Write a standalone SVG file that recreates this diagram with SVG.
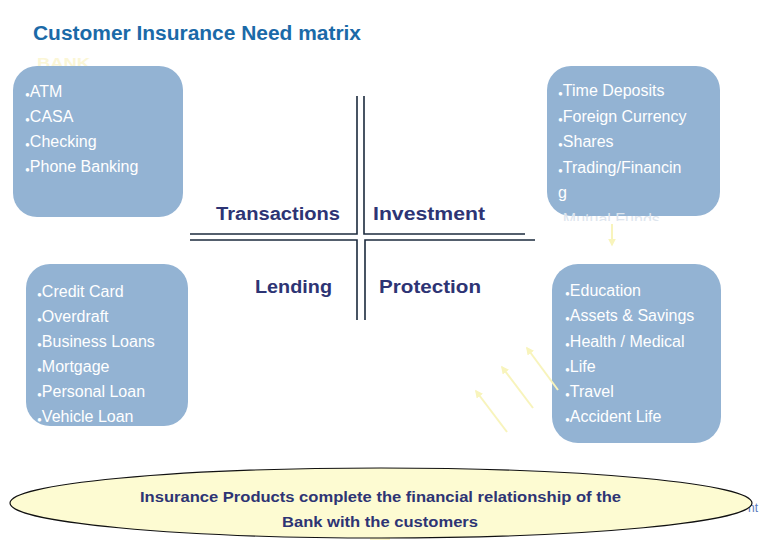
<svg xmlns="http://www.w3.org/2000/svg" width="780" height="540" viewBox="0 0 780 540">
<style>
.box{fill:#93b3d3}
.it{font-family:"Liberation Sans",Arial,sans-serif;font-size:16px;fill:#ffffff}
.b{font-size:8px}
.q{font-family:"Liberation Sans",Arial,sans-serif;font-size:18px;font-weight:bold;fill:#2d3474}
.ax{fill:none;stroke:#1c2b3e;stroke-width:1.6}
.ya{stroke:#f8f4bc;stroke-width:2;fill:none}
</style>
<defs>
<marker id="yh" viewBox="0 0 10 10" refX="8" refY="5" markerWidth="4" markerHeight="4" orient="auto">
<path d="M0,0 L10,5 L0,10 z" fill="#f8f4bc"/>
</marker>
<clipPath id="mf"><rect x="540" y="60" width="200" height="161"/></clipPath>
</defs>
<rect width="780" height="540" fill="#ffffff"/>

<g id="title">
<text x="33" y="40" font-family="Liberation Sans,Arial,sans-serif" font-size="20" font-weight="bold" fill="#1b6aa8" textLength="328" lengthAdjust="spacingAndGlyphs">Customer Insurance Need matrix</text>
<text x="37" y="68" font-family="Liberation Sans,Arial,sans-serif" font-size="15" font-weight="bold" fill="#fbf6d6" textLength="53" lengthAdjust="spacingAndGlyphs">BANK</text>
</g>

<g id="transactions-box">
<rect class="box" x="13" y="66" width="170" height="151" rx="24"/>
<text class="it" x="25" y="97"><tspan class="b">●</tspan>ATM</text>
<text class="it" x="25" y="122"><tspan class="b">●</tspan>CASA</text>
<text class="it" x="25" y="147"><tspan class="b">●</tspan>Checking</text>
<text class="it" x="25" y="172"><tspan class="b">●</tspan>Phone Banking</text>
</g>

<g id="investment-box">
<rect class="box" x="547" y="66" width="173" height="150" rx="24"/>
<text class="it" x="558" y="96"><tspan class="b">●</tspan>Time Deposits</text>
<text class="it" x="558" y="122"><tspan class="b">●</tspan>Foreign Currency</text>
<text class="it" x="558" y="147"><tspan class="b">●</tspan>Shares</text>
<text class="it" x="558" y="173"><tspan class="b">●</tspan>Trading/Financin</text>
<text class="it" x="558" y="198">g</text>
<g clip-path="url(#mf)">
<text class="it" x="558" y="225" style="fill:#dde5ee"><tspan class="b">●</tspan>Mutual Funds</text>
</g>
</g>

<g id="lending-box">
<rect class="box" x="26" y="264" width="162" height="162" rx="24"/>
<text class="it" x="37" y="297"><tspan class="b">●</tspan>Credit Card</text>
<text class="it" x="37" y="322"><tspan class="b">●</tspan>Overdraft</text>
<text class="it" x="37" y="347"><tspan class="b">●</tspan>Business Loans</text>
<text class="it" x="37" y="372"><tspan class="b">●</tspan>Mortgage</text>
<text class="it" x="37" y="397"><tspan class="b">●</tspan>Personal Loan</text>
<text class="it" x="37" y="422"><tspan class="b">●</tspan>Vehicle Loan</text>
</g>

<g id="protection-box">
<rect class="box" x="552" y="264" width="169" height="179" rx="26"/>
<text class="it" x="565" y="296"><tspan class="b">●</tspan>Education</text>
<text class="it" x="565" y="321"><tspan class="b">●</tspan>Assets &amp; Savings</text>
<text class="it" x="565" y="347"><tspan class="b">●</tspan>Health / Medical</text>
<text class="it" x="565" y="372"><tspan class="b">●</tspan>Life</text>
<text class="it" x="565" y="397"><tspan class="b">●</tspan>Travel</text>
<text class="it" x="565" y="422"><tspan class="b">●</tspan>Accident Life</text>
</g>

<g id="matrix">
<polyline class="ax" points="190,234 357,234 357,96"/>
<polyline class="ax" points="364,96 364,234 525,234"/>
<polyline class="ax" points="190,240 357,240 357,320"/>
<polyline class="ax" points="535,240 365,240 365,320"/>
<text class="q" x="216" y="220" textLength="124" lengthAdjust="spacingAndGlyphs">Transactions</text>
<text class="q" x="373" y="220" textLength="112" lengthAdjust="spacingAndGlyphs">Investment</text>
<text class="q" x="255" y="293" textLength="77" lengthAdjust="spacingAndGlyphs">Lending</text>
<text class="q" x="379" y="293" textLength="102" lengthAdjust="spacingAndGlyphs">Protection</text>
</g>

<g id="connectors">
<line class="ya" x1="612" y1="224" x2="612" y2="245" marker-end="url(#yh)"/>
<line class="ya" x1="558" y1="390" x2="527" y2="348" marker-end="url(#yh)"/>
<line class="ya" x1="533" y1="408" x2="502" y2="367" marker-end="url(#yh)"/>
<line class="ya" x1="507" y1="432" x2="476" y2="391" marker-end="url(#yh)"/>
</g>

<g id="summary">
<text x="758" y="512" text-anchor="end" font-family="Liberation Sans,Arial,sans-serif" font-size="12" fill="#5b7bbb">nt</text>
<rect x="370" y="532" width="20" height="8" fill="#fbf6c8"/>
<ellipse cx="381" cy="503" rx="371" ry="35" fill="#fdfbd2" stroke="#111111" stroke-width="1.2"/>
<text x="140" y="502" font-family="Liberation Sans,Arial,sans-serif" font-size="14" font-weight="bold" fill="#2d3474" textLength="481" lengthAdjust="spacingAndGlyphs">Insurance Products complete the financial relationship of the</text>
<text x="282" y="527" font-family="Liberation Sans,Arial,sans-serif" font-size="14" font-weight="bold" fill="#2d3474" textLength="196" lengthAdjust="spacingAndGlyphs">Bank with the customers</text>
</g>
</svg>
